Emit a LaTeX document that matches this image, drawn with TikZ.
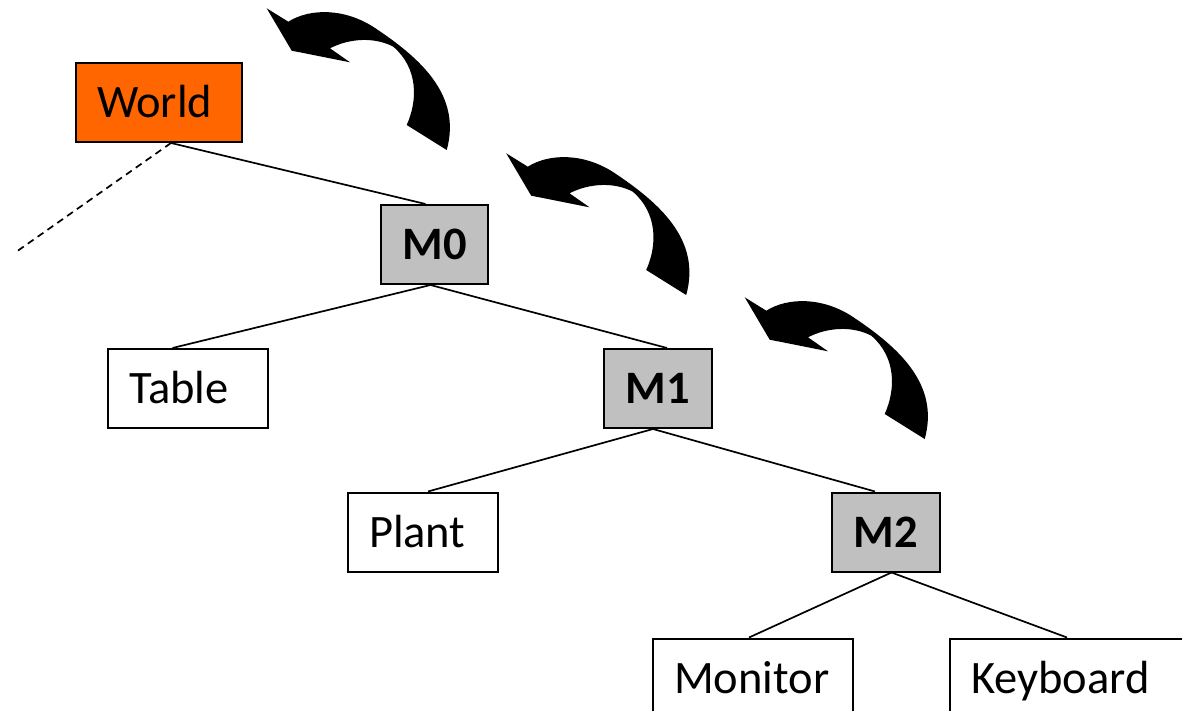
\documentclass[tikz,border=0pt]{standalone}
\usepackage{fontspec}
\setmainfont{Carlito}
\definecolor{worldorange}{HTML}{FF6600}
\definecolor{mgray}{HTML}{C0C0C0}
\tikzset{
  box/.style={draw, line width=2pt, rectangle, inner xsep=21pt, inner ysep=0pt,
    minimum height=79pt, text height=30pt, text depth=0pt, align=left,
    font=\fontsize{46.5}{56}\selectfont},
  mbox/.style={box, fill=mgray, align=center, font=\fontsize{46.5}{56}\selectfont\bfseries},
  link/.style={line width=1.7pt},
  pics/curl/.style={code={
    \fill (266.7,8.3) -- (288.3,21.7) .. controls (310,8) and (345,8) .. (375,28)
      .. controls (420,58) and (462,95) .. (446.7,150) -- (406.7,125)
      .. controls (418,100) and (418,68) .. (393.3,46.7)
      .. controls (375,37) and (350,38) .. (330,48.3) -- (350,62.3) -- (291.7,50.7) -- cycle;
  }}
}
\begin{document}
\begin{tikzpicture}[x=1pt,y=-1pt]
\clip (0,0) rectangle (1182,711);
\node[box, fill=worldorange, text width=124pt] (world) at (159,102.5) {World};
\node[mbox, text width=65pt] (m0) at (434.5,244.5) {M0};
\node[box, text width=118pt] (table) at (188,388.5) {Table};
\node[mbox, text width=66pt] (m1) at (658,388.5) {M1};
\node[box, text width=108pt] (plant) at (423,532) {Plant};
\node[mbox, text width=66pt] (m2) at (886,532) {M2};
\node[box, text width=158pt] (monitor) at (753,678) {Monitor};
\node[box, text width=219pt] (keyboard) at (1080.5,678) {Keyboard};
\coordinate (dashend) at (16,252);

\draw[link] ([xshift=12pt]world.south) -- ([xshift=-9pt]m0.north);
\draw[link, dashed, dash pattern=on 7pt off 5pt] ([xshift=12pt]world.south) -- (dashend);
\draw[link] ([xshift=-4pt]m0.south) -- ([xshift=-15.5pt]table.north);
\draw[link] ([xshift=-4pt]m0.south) -- ([xshift=9pt]m1.north);
\draw[link] ([xshift=-5pt]m1.south) -- ([xshift=5pt]plant.north);
\draw[link] ([xshift=-5pt]m1.south) -- ([xshift=-11pt]m2.north);
\draw[link] ([xshift=5.5pt]m2.south) -- ([xshift=-4pt]monitor.north);
\draw[link] ([xshift=5.5pt]m2.south) -- ([xshift=-13.5pt]keyboard.north);

\pic at (0,0) {curl};
\pic at (239.5,145) {curl};
\pic at (478,289) {curl};
\end{tikzpicture}
\end{document}
